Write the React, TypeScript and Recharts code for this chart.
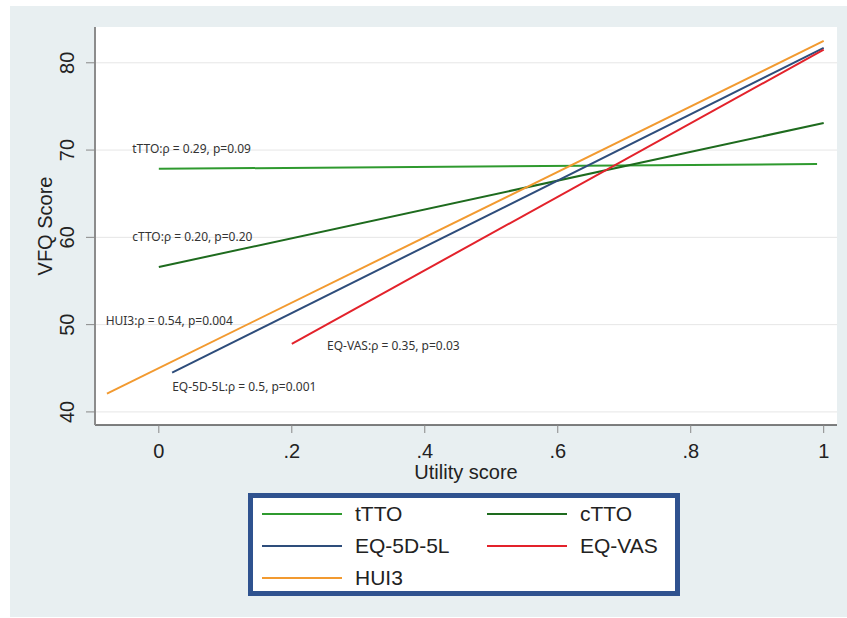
import React from 'react';
import { ComposedChart, Line, XAxis, YAxis, CartesianGrid, ReferenceDot, Label } from 'recharts';

// Achsen
const xTicks = [0, 0.2, 0.4, 0.6, 0.8, 1];
const yTicks = [40, 50, 60, 70, 80];

// Regressionsgeraden: je Start- und Endpunkt (x = Utility, y = VFQ)
const seriesNames = ['tTTO', 'cTTO', 'EQ-5D-5L', 'EQ-VAS', 'HUI3'];
const seriesColors = ['#2f9a2f', '#1e6b1e', '#2e4d7b', '#e3222b', '#f29a30'];
const seriesX = [
  [0, 0.99],
  [0, 1],
  [0.02, 1],
  [0.2, 1],
  [-0.078, 1],
];
const seriesY = [
  [67.85, 68.4],
  [56.6, 73.1],
  [44.5, 81.7],
  [47.8, 81.5],
  [42.1, 82.5],
];

// Beschriftungen im Plot
const noteText = [
  'tTTO:ρ = 0.29, p=0.09',
  'cTTO:ρ = 0.20, p=0.20',
  'HUI3:ρ = 0.54, p=0.004',
  'EQ-VAS:ρ = 0.35, p=0.03',
  'EQ-5D-5L:ρ = 0.5, p=0.001',
];
const noteX = [-0.04, -0.04, -0.08, 0.253, 0.02];
const noteY = [70.1, 60.05, 50.4, 47.6, 42.9];

const FONT = '"Liberation Sans", Arial, sans-serif';

const fmtX = (v: number) => (v === 0 ? '0' : v === 1 ? '1' : String(v).replace(/^0/, ''));

const XTick = (props: any) => {
  const { x, y, payload } = props;
  return (
    <text x={x} y={y} textAnchor="middle" dominantBaseline="central" fontSize={20} fill="#222" fontFamily={FONT}>
      {fmtX(payload.value)}
    </text>
  );
};

const YTick = (props: any) => {
  const { x, y, payload } = props;
  return (
    <text
      x={x}
      y={y}
      transform={`rotate(-90 ${x} ${y})`}
      textAnchor="middle"
      dominantBaseline="central"
      fontSize={20}
      fill="#222"
      fontFamily={FONT}
    >
      {payload.value}
    </text>
  );
};

function LegendBox() {
  return (
    <div
      style={{
        position: 'absolute',
        left: 248,
        top: 493,
        width: 432,
        height: 103,
        boxSizing: 'border-box',
        border: '5px solid #2f528f',
        background: '#fff',
        display: 'grid',
        gridTemplateColumns: '225px 190px',
        gridAutoRows: '32px',
        paddingLeft: 9,
        fontFamily: FONT,
        fontSize: 21,
        color: '#222',
      }}
    >
      {seriesNames.map((s, i) => (
        <div key={s} style={{ display: 'flex', alignItems: 'center' }}>
          <span style={{ display: 'inline-block', width: 80, height: 2, background: seriesColors[i], marginRight: 13 }} />
          <span>{s}</span>
        </div>
      ))}
    </div>
  );
}

export default function App() {
  return (
    <div style={{ position: 'absolute', left: 0, top: 0, width: 847, height: 618, background: '#fff' }}>
      <div style={{ position: 'absolute', left: 10, top: 6, width: 837, height: 611, background: '#e8eff1' }} />
      <div style={{ position: 'absolute', left: 0, top: 0 }}>
        <ComposedChart width={847} height={618} margin={{ top: 27, right: 10, bottom: 133, left: 10 }}>
          <CartesianGrid vertical={false} stroke="#e6e6e6" fill="#fff" horizontalValues={yTicks} />
          <XAxis
            type="number"
            dataKey="x"
            domain={[-0.096, 1.02]}
            ticks={xTicks}
            allowDataOverflow
            height={60}
            tickSize={8}
            tickMargin={18}
            tick={(p: any) => <XTick {...p} />}
            axisLine={{ stroke: '#555', strokeWidth: 1.5 }}
            tickLine={{ stroke: '#888' }}
          >
            <Label
              content={(p: any) => {
                const vb = p.viewBox;
                return (
                  <text
                    x={vb.x + vb.width / 2}
                    y={vb.y + 47}
                    textAnchor="middle"
                    dominantBaseline="central"
                    fontSize={20}
                    fill="#222"
                    fontFamily={FONT}
                  >
                    Utility score
                  </text>
                );
              }}
            />
          </XAxis>
          <YAxis
            type="number"
            domain={[38.5, 84.1]}
            ticks={yTicks}
            allowDataOverflow
            width={85}
            tickSize={9}
            tickMargin={19}
            tick={(p: any) => <YTick {...p} />}
            axisLine={{ stroke: '#8c8c8c', strokeWidth: 2 }}
            tickLine={{ stroke: '#888' }}
          >
            <Label
              content={(p: any) => {
                const vb = p.viewBox;
                const cx = vb.x + 35;
                const cy = vb.y + vb.height / 2;
                return (
                  <text
                    x={cx}
                    y={cy}
                    transform={`rotate(-90 ${cx} ${cy})`}
                    textAnchor="middle"
                    dominantBaseline="central"
                    fontSize={20}
                    fill="#222"
                    fontFamily={FONT}
                  >
                    VFQ Score
                  </text>
                );
              }}
            />
          </YAxis>
          {seriesNames.map((s, i) => (
            <Line
              key={s}
              name={s}
              data={seriesX[i].map((x, j) => ({ x, y: seriesY[i][j] }))}
              dataKey="y"
              type="linear"
              stroke={seriesColors[i]}
              strokeWidth={2}
              dot={false}
              activeDot={false}
              isAnimationActive={false}
            />
          ))}
          {noteText.map((t, i) => (
            <ReferenceDot
              key={t}
              x={noteX[i]}
              y={noteY[i]}
              r={0}
              stroke="none"
              fill="none"
              ifOverflow="visible"
              label={{
                value: t,
                position: 'right',
                offset: 0,
                fontSize: 12,
                fill: '#333',
                fontFamily: '"Noto Sans", "Open Sans", sans-serif',
              }}
            />
          ))}
        </ComposedChart>
      </div>
      <LegendBox />
    </div>
  );
}
